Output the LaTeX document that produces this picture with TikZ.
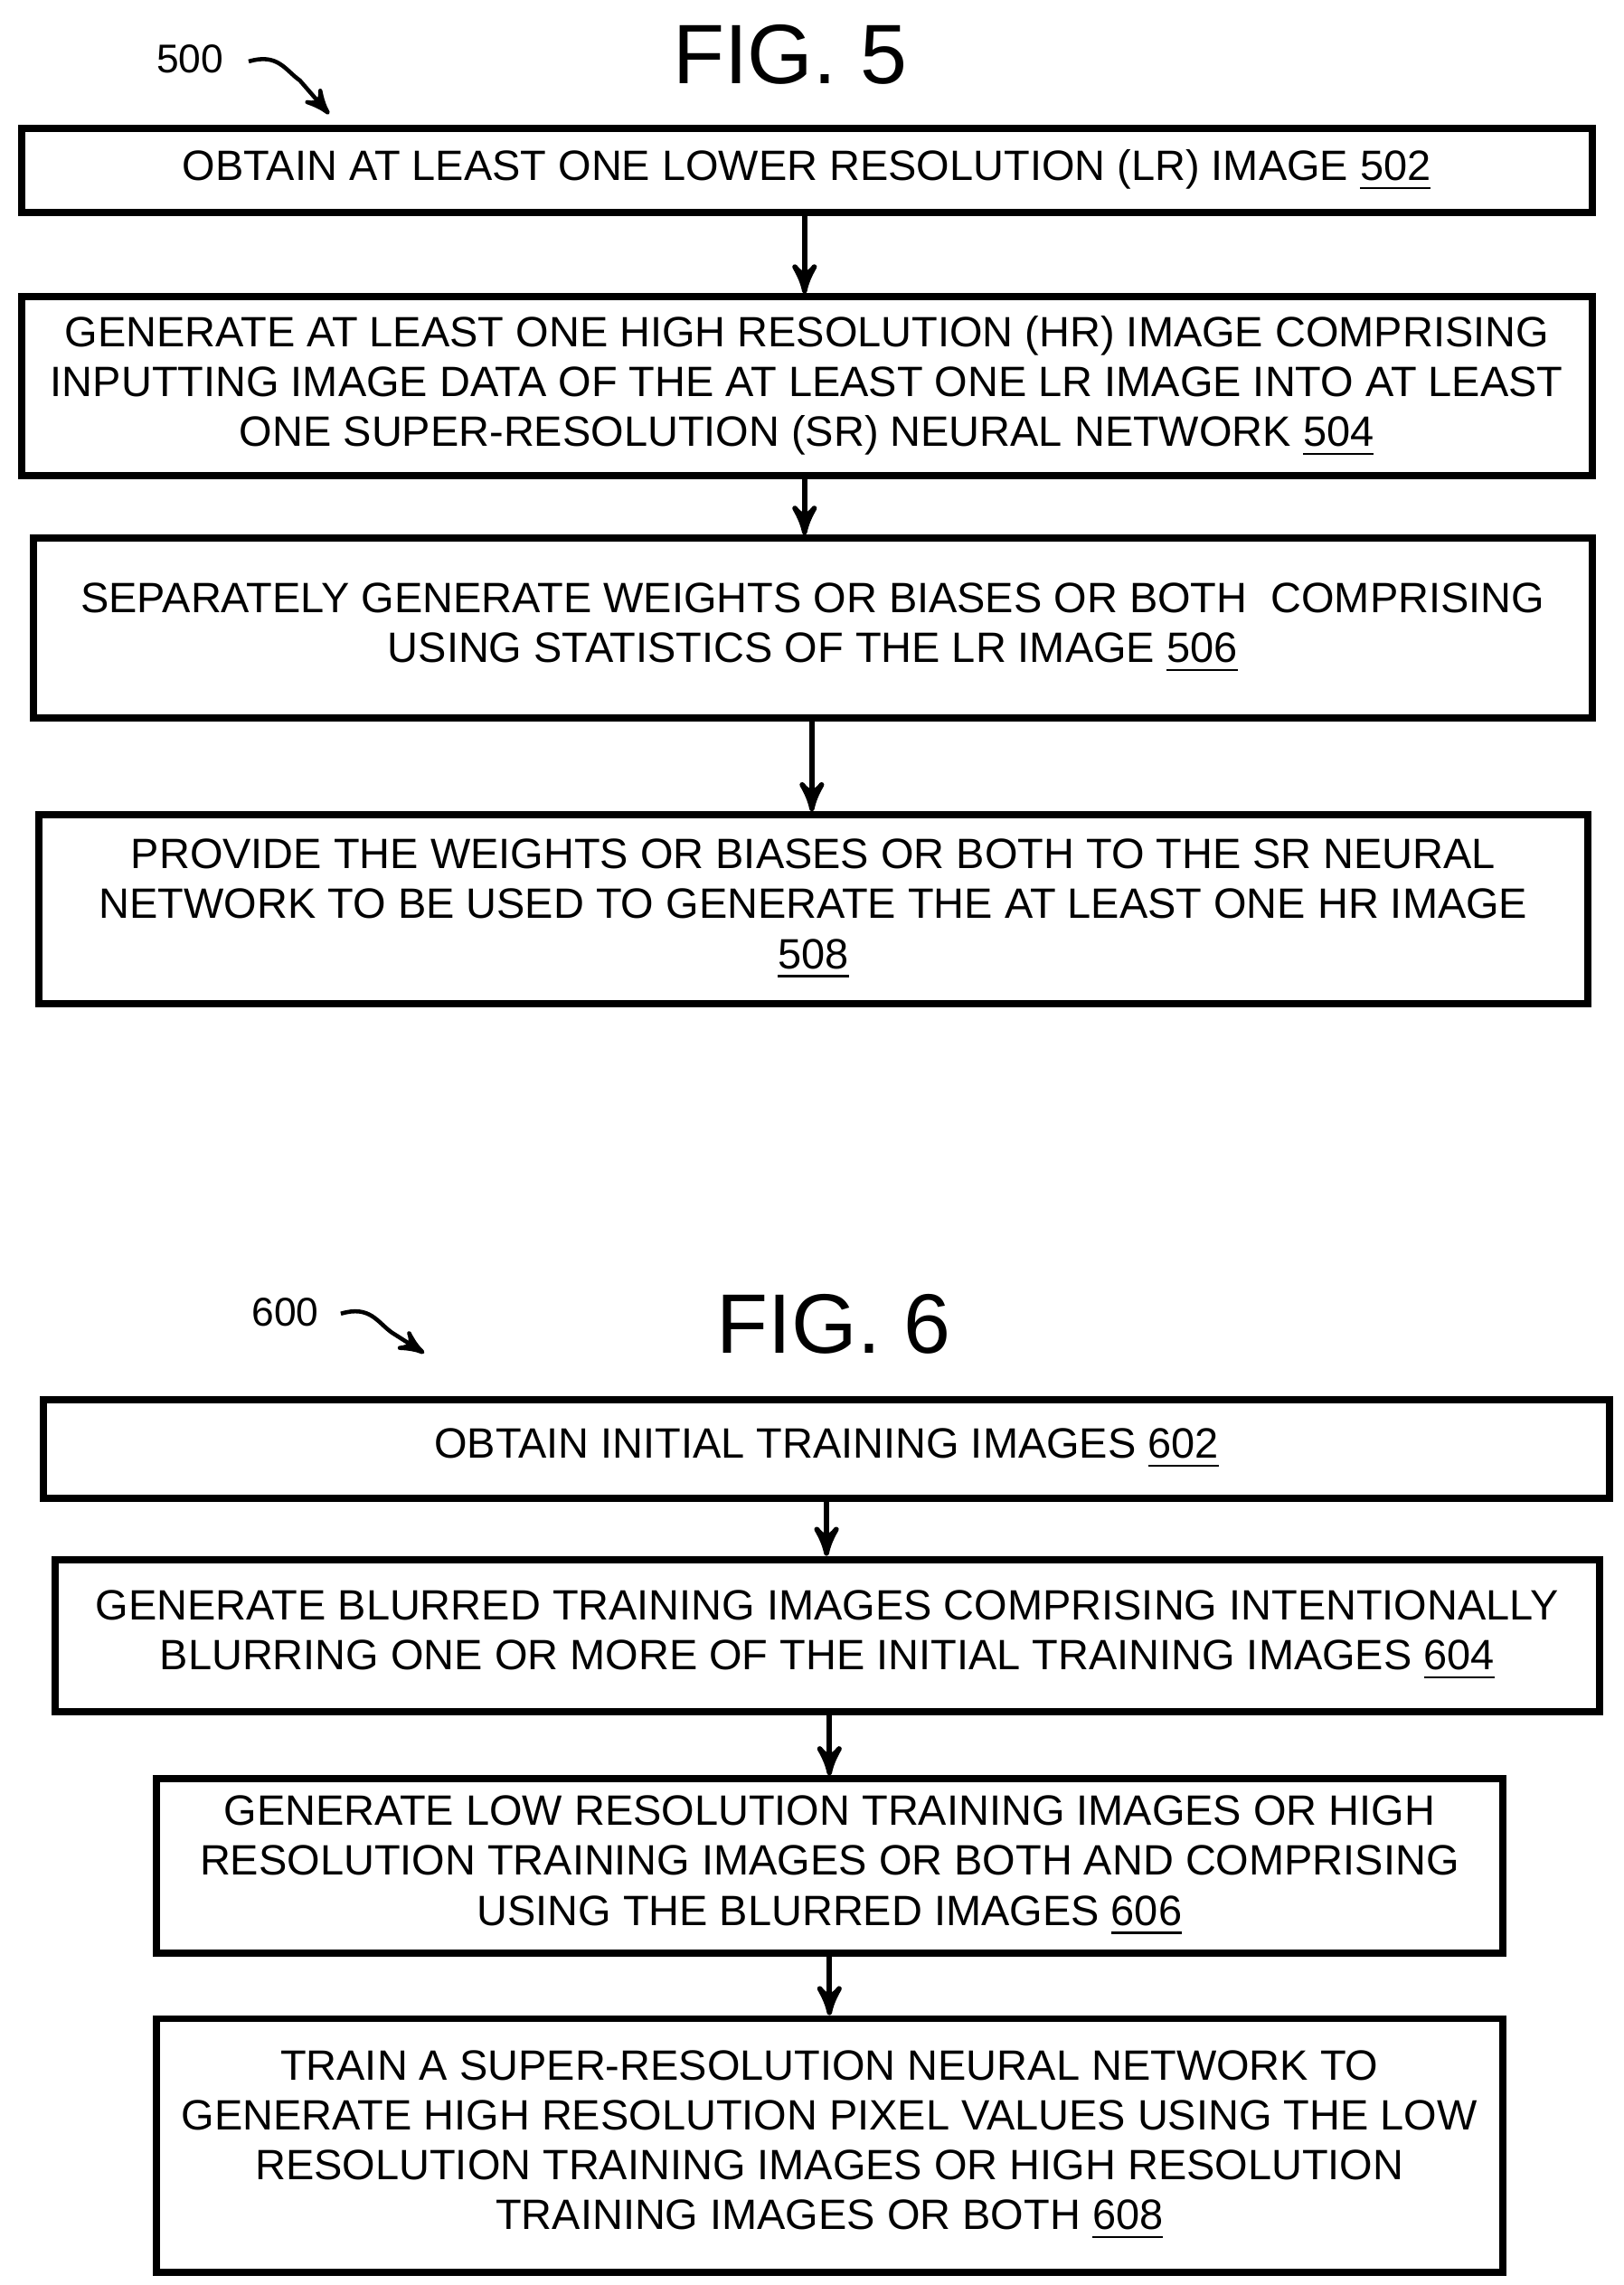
\documentclass[tikz,border=0pt]{standalone}
\usepackage{fontspec}
\setmainfont{Liberation Sans}
\usetikzlibrary{positioning, arrows}
\begin{document}
\begin{tikzpicture}[x=0.01cm,y=-0.01cm,>=stealth',thick,
    stepbox/.style={draw,line width=1.4pt,align=center,inner sep=0pt,
      font=\fontsize{8.25pt}{9.7pt}\selectfont},
    flow/.style={->,line width=1pt},
    figtitle/.style={font=\fontsize{16.4pt}{17pt}\selectfont},
    reflabel/.style={font=\fontsize{7.8pt}{9pt}\selectfont}]
\useasboundingbox (0,0) rectangle (1110,1562);

% FIG. 5
\node[figtitle] (t5) at (540,37) {FIG. 5};
\node[reflabel] (n500) at (130,40) {500};
\coordinate (e500) at (225,78);
\draw[->,line width=0.8pt] (170,42) .. controls (190,36) and (195,48) .. (205,55) -- (e500);

\node[stepbox,minimum width=10.73cm,minimum height=0.57cm] (s502) at (551.5,116.5)
  {OBTAIN AT LEAST ONE LOWER RESOLUTION (LR) IMAGE \underline{502}};
\node[stepbox,minimum width=10.73cm,minimum height=1.22cm] (s504) at (551.5,264)
  {GENERATE AT LEAST ONE HIGH RESOLUTION (HR) IMAGE COMPRISING\\
   INPUTTING IMAGE DATA OF THE AT LEAST ONE LR IMAGE INTO AT LEAST\\
   ONE SUPER-RESOLUTION (SR) NEURAL NETWORK \underline{504}};
\node[stepbox,minimum width=10.65cm,minimum height=1.23cm] (s506) at (555.5,429.5)
  {SEPARATELY GENERATE WEIGHTS OR BIASES OR BOTH \ COMPRISING\\
   USING STATISTICS OF THE LR IMAGE \underline{506}};
\node[stepbox,minimum width=10.58cm,minimum height=1.29cm] (s508) at (556,621.5)
  {PROVIDE THE WEIGHTS OR BIASES OR BOTH TO THE SR NEURAL\\
   NETWORK TO BE USED TO GENERATE THE AT LEAST ONE HR IMAGE\\
   \underline{508}};
\draw[flow] (s502.south -| 550,0) -- (s504.north -| 550,0);
\draw[flow] (s504.south -| 550,0) -- (s506.north -| 550,0);
\draw[flow] (s506.south -| 555,0) -- (s508.north -| 555,0);

% FIG. 6
\node[figtitle] (t6) at (570,905) {FIG. 6};
\node[reflabel] (n600) at (195,897) {600};
\coordinate (e600) at (290,925);
\draw[->,line width=0.8pt] (233,898) .. controls (253,892) and (258,904) .. (268,911) -- (e600);

\node[stepbox,minimum width=10.70cm,minimum height=0.67cm] (s602) at (565,990.5)
  {OBTAIN INITIAL TRAINING IMAGES \underline{602}};
\node[stepbox,minimum width=10.55cm,minimum height=1.04cm] (s604) at (565.5,1118)
  {GENERATE BLURRED TRAINING IMAGES COMPRISING INTENTIONALLY\\
   BLURRING ONE OR MORE OF THE INITIAL TRAINING IMAGES \underline{604}};
\node[stepbox,minimum width=9.20cm,minimum height=1.19cm] (s606) at (567,1275.5)
  {GENERATE LOW RESOLUTION TRAINING IMAGES OR HIGH\\
   RESOLUTION TRAINING IMAGES OR BOTH AND COMPRISING\\
   USING THE BLURRED IMAGES \underline{606}};
\node[stepbox,minimum width=9.20cm,minimum height=1.73cm] (s608) at (567,1466.5)
  {TRAIN A SUPER-RESOLUTION NEURAL NETWORK TO\\
   GENERATE HIGH RESOLUTION PIXEL VALUES USING THE LOW\\
   RESOLUTION TRAINING IMAGES OR HIGH RESOLUTION\\
   TRAINING IMAGES OR BOTH \underline{608}};
\draw[flow] (s602.south -| 565,0) -- (s604.north -| 565,0);
\draw[flow] (s604.south -| 567,0) -- (s606.north -| 567,0);
\draw[flow] (s606) -- (s608);
\end{tikzpicture}
\end{document}
